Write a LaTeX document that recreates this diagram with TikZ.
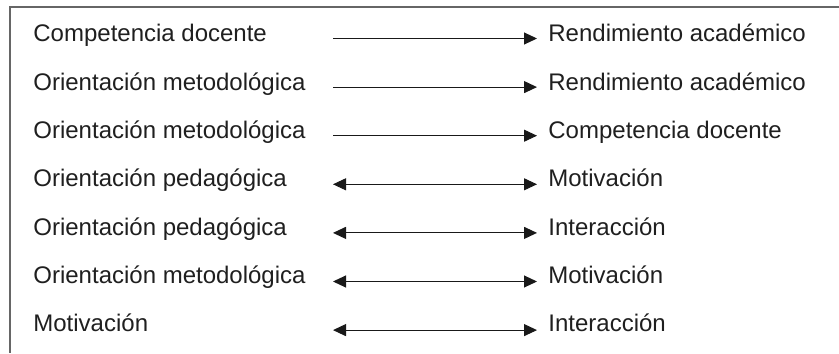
\documentclass[tikz,border=0pt]{standalone}
\usepackage{fontspec}
\setmainfont{Liberation Sans}
\usetikzlibrary{arrows.meta}
\begin{document}
\begin{tikzpicture}[x=0.5pt,y=-0.5pt,
  label/.style={anchor=base west,inner sep=0pt,text=black!88,
    font=\fontsize{12}{14}\selectfont},
  frame/.style={draw=black!60,line width=0.75pt},
  tip/.style={Triangle[length=6.5pt,width=6pt]},
  link/.style={draw=black!90,line width=0.5pt,-{Triangle[length=6.5pt,width=6pt]}},
  bilink/.style={draw=black!90,line width=0.5pt,
    {Triangle[length=6.5pt,width=6pt]}-{Triangle[length=6.5pt,width=6pt]}}]
\useasboundingbox (0,0) rectangle (839,353);
% open frame: top and left edges only
\draw[frame] (839,7) -- (10,7) -- (10,353);
% left-hand and right-hand labels
\foreach \i/\l/\r in {0/Competencia docente/Rendimiento académico,
                      1/Orientación metodológica/Rendimiento académico,
                      2/Orientación metodológica/Competencia docente,
                      3/Orientación pedagógica/Motivación,
                      4/Orientación pedagógica/Interacción,
                      5/Orientación metodológica/Motivación,
                      6/Motivación/Interacción}{
  \node[label] (l\i) at (33,42+48.33*\i) {\l};
  \node[label] (r\i) at (548,42+48.33*\i) {\r};
  \coordinate (s\i) at (333,38.5+48.6*\i);
  \coordinate (e\i) at (537,38.5+48.6*\i);
}
% one-way relations
\foreach \i in {0,1,2}{\draw[link] (s\i) -- (e\i);}
% two-way relations
\foreach \i in {3,4,5,6}{\draw[bilink] (s\i) -- (e\i);}
\end{tikzpicture}
\end{document}
